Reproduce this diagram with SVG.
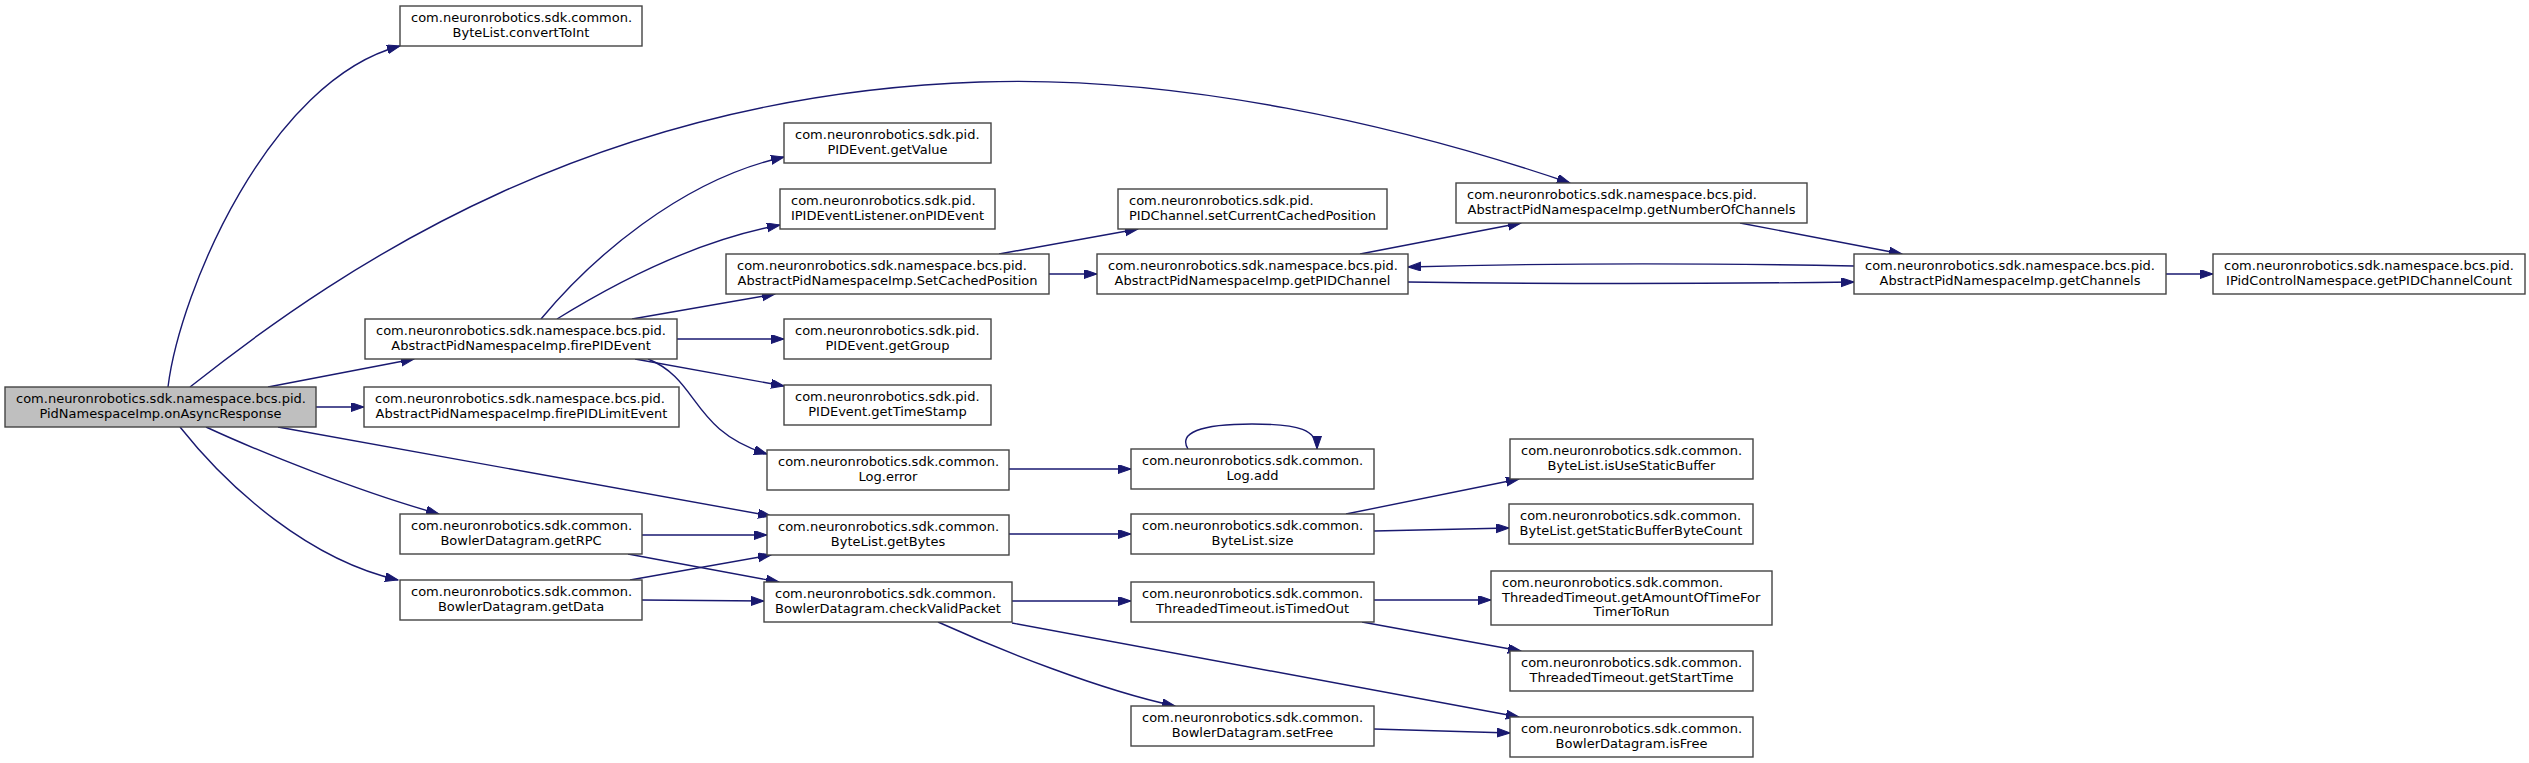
<svg xmlns="http://www.w3.org/2000/svg" width="2529" height="763" viewBox="0 0 2529 763">
<style>
.n rect{fill:#ffffff;stroke:#444444;stroke-width:1.4}
.n.main rect{fill:#bfbfbf}
.n text{font-family:"DejaVu Sans","Liberation Sans",sans-serif;font-size:13px;fill:#000000}
.s{text-anchor:start}
.m{text-anchor:middle}
#edges path{fill:none;stroke:#191970;stroke-width:1.4;marker-end:url(#arr)}
</style>
<defs>
<marker id="arr" markerUnits="userSpaceOnUse" markerWidth="14" markerHeight="10" refX="13" refY="4.5" orient="auto">
<path d="M0,0 L13,4.5 L0,9 z" fill="#191970" stroke="#191970" stroke-width="1"/>
</marker>
</defs>
<rect x="0" y="0" width="2529" height="763" fill="#ffffff"/>
<g id="edges">
<path d="M168,387 C180,290 270,80 400,46"/>
<path d="M190,387 C350,260 600,95 980,82 C1180,75 1400,125 1570,183"/>
<path d="M268,387 L414,359"/>
<path d="M316,407 L364,407"/>
<path d="M278,427 L771,516"/>
<path d="M206,427 C260,452 360,492 439,514"/>
<path d="M180,427 C230,490 310,560 398,580"/>
<path d="M541,319 C590,260 680,180 784,157"/>
<path d="M557,319 C620,280 700,240 780,225"/>
<path d="M632,319 L775,294"/>
<path d="M677,339 L784,339"/>
<path d="M635,359 L784,386"/>
<path d="M648,359 C700,380 690,430 767,454"/>
<path d="M999,254 L1138,229"/>
<path d="M1049,274 L1097,274"/>
<path d="M1360,254 L1521,223"/>
<path d="M1408,282 C1550,284 1700,284 1854,282"/>
<path d="M1854,266 C1700,263 1550,263 1408,267"/>
<path d="M1740,223 L1902,254"/>
<path d="M2166,274 L2213,274"/>
<path d="M1009,469 L1131,469"/>
<path d="M1188,449 C1178,433 1200,424 1252,424 C1300,424 1317,430 1317,449"/>
<path d="M1009,534 L1131,534"/>
<path d="M1346,514 L1519,479"/>
<path d="M1374,531 L1509,528"/>
<path d="M642,535 L767,535"/>
<path d="M628,554 L779,582"/>
<path d="M630,580 L771,555"/>
<path d="M642,600 L764,601"/>
<path d="M1012,601 L1131,601"/>
<path d="M938,622 C1000,650 1100,690 1175,706"/>
<path d="M1012,623 L1519,717"/>
<path d="M1374,600 L1491,600"/>
<path d="M1362,622 L1521,651"/>
<path d="M1374,729 L1510,733"/>
</g>
<g id="n_main" class="n main"><rect x="5" y="387" width="311" height="40"/><text class="s" x="16" y="403">com.neuronrobotics.sdk.namespace.bcs.pid.</text><text class="m" x="160.5" y="418">PidNamespaceImp.onAsyncResponse</text></g>
<g id="n_convertToInt" class="n"><rect x="400" y="6" width="242" height="40"/><text class="s" x="411" y="22">com.neuronrobotics.sdk.common.</text><text class="m" x="521" y="37">ByteList.convertToInt</text></g>
<g id="n_firePIDEvent" class="n"><rect x="365" y="319" width="312" height="40"/><text class="s" x="376" y="335">com.neuronrobotics.sdk.namespace.bcs.pid.</text><text class="m" x="521" y="350">AbstractPidNamespaceImp.firePIDEvent</text></g>
<g id="n_firePIDLimitEvent" class="n"><rect x="364" y="387" width="315" height="40"/><text class="s" x="375" y="403">com.neuronrobotics.sdk.namespace.bcs.pid.</text><text class="m" x="521.5" y="418">AbstractPidNamespaceImp.firePIDLimitEvent</text></g>
<g id="n_getRPC" class="n"><rect x="400" y="514" width="242" height="40"/><text class="s" x="411" y="530">com.neuronrobotics.sdk.common.</text><text class="m" x="521" y="545">BowlerDatagram.getRPC</text></g>
<g id="n_getData" class="n"><rect x="400" y="580" width="242" height="40"/><text class="s" x="411" y="596">com.neuronrobotics.sdk.common.</text><text class="m" x="521" y="611">BowlerDatagram.getData</text></g>
<g id="n_getValue" class="n"><rect x="784" y="123" width="207" height="40"/><text class="s" x="795" y="139">com.neuronrobotics.sdk.pid.</text><text class="m" x="887.5" y="154">PIDEvent.getValue</text></g>
<g id="n_onPIDEvent" class="n"><rect x="780" y="189" width="215" height="40"/><text class="s" x="791" y="205">com.neuronrobotics.sdk.pid.</text><text class="m" x="887.5" y="220">IPIDEventListener.onPIDEvent</text></g>
<g id="n_SetCachedPosition" class="n"><rect x="726" y="254" width="323" height="40"/><text class="s" x="737" y="270">com.neuronrobotics.sdk.namespace.bcs.pid.</text><text class="m" x="887.5" y="285">AbstractPidNamespaceImp.SetCachedPosition</text></g>
<g id="n_getGroup" class="n"><rect x="784" y="319" width="207" height="40"/><text class="s" x="795" y="335">com.neuronrobotics.sdk.pid.</text><text class="m" x="887.5" y="350">PIDEvent.getGroup</text></g>
<g id="n_getTimeStamp" class="n"><rect x="784" y="385" width="207" height="40"/><text class="s" x="795" y="401">com.neuronrobotics.sdk.pid.</text><text class="m" x="887.5" y="416">PIDEvent.getTimeStamp</text></g>
<g id="n_LogError" class="n"><rect x="767" y="450" width="242" height="40"/><text class="s" x="778" y="466">com.neuronrobotics.sdk.common.</text><text class="m" x="888" y="481">Log.error</text></g>
<g id="n_getBytes" class="n"><rect x="767" y="515" width="242" height="40"/><text class="s" x="778" y="531">com.neuronrobotics.sdk.common.</text><text class="m" x="888" y="546">ByteList.getBytes</text></g>
<g id="n_checkValidPacket" class="n"><rect x="764" y="582" width="248" height="40"/><text class="s" x="775" y="598">com.neuronrobotics.sdk.common.</text><text class="m" x="888" y="613">BowlerDatagram.checkValidPacket</text></g>
<g id="n_setCurrentCachedPosition" class="n"><rect x="1118" y="189" width="269" height="40"/><text class="s" x="1129" y="205">com.neuronrobotics.sdk.pid.</text><text class="m" x="1252.5" y="220">PIDChannel.setCurrentCachedPosition</text></g>
<g id="n_getPIDChannel" class="n"><rect x="1097" y="254" width="311" height="40"/><text class="s" x="1108" y="270">com.neuronrobotics.sdk.namespace.bcs.pid.</text><text class="m" x="1252.5" y="285">AbstractPidNamespaceImp.getPIDChannel</text></g>
<g id="n_getNumberOfChannels" class="n"><rect x="1456" y="183" width="351" height="40"/><text class="s" x="1467" y="199">com.neuronrobotics.sdk.namespace.bcs.pid.</text><text class="m" x="1631.5" y="214">AbstractPidNamespaceImp.getNumberOfChannels</text></g>
<g id="n_getChannels" class="n"><rect x="1854" y="254" width="312" height="40"/><text class="s" x="1865" y="270">com.neuronrobotics.sdk.namespace.bcs.pid.</text><text class="m" x="2010" y="285">AbstractPidNamespaceImp.getChannels</text></g>
<g id="n_getPIDChannelCount" class="n"><rect x="2213" y="254" width="312" height="40"/><text class="s" x="2224" y="270">com.neuronrobotics.sdk.namespace.bcs.pid.</text><text class="m" x="2369" y="285">IPidControlNamespace.getPIDChannelCount</text></g>
<g id="n_LogAdd" class="n"><rect x="1131" y="449" width="243" height="40"/><text class="s" x="1142" y="465">com.neuronrobotics.sdk.common.</text><text class="m" x="1252.5" y="480">Log.add</text></g>
<g id="n_size" class="n"><rect x="1131" y="514" width="243" height="40"/><text class="s" x="1142" y="530">com.neuronrobotics.sdk.common.</text><text class="m" x="1252.5" y="545">ByteList.size</text></g>
<g id="n_isTimedOut" class="n"><rect x="1131" y="582" width="243" height="40"/><text class="s" x="1142" y="598">com.neuronrobotics.sdk.common.</text><text class="m" x="1252.5" y="613">ThreadedTimeout.isTimedOut</text></g>
<g id="n_setFree" class="n"><rect x="1131" y="706" width="243" height="40"/><text class="s" x="1142" y="722">com.neuronrobotics.sdk.common.</text><text class="m" x="1252.5" y="737">BowlerDatagram.setFree</text></g>
<g id="n_isUseStaticBuffer" class="n"><rect x="1510" y="439" width="243" height="40"/><text class="s" x="1521" y="455">com.neuronrobotics.sdk.common.</text><text class="m" x="1631.5" y="470">ByteList.isUseStaticBuffer</text></g>
<g id="n_getStaticBufferByteCount" class="n"><rect x="1509" y="504" width="244" height="40"/><text class="s" x="1520" y="520">com.neuronrobotics.sdk.common.</text><text class="m" x="1631" y="535">ByteList.getStaticBufferByteCount</text></g>
<g id="n_getAmountOfTime" class="n"><rect x="1491" y="571" width="281" height="54"/><text class="s" x="1502" y="587">com.neuronrobotics.sdk.common.</text><text class="s" x="1502" y="601.7">ThreadedTimeout.getAmountOfTimeFor</text><text class="m" x="1631.5" y="616.3">TimerToRun</text></g>
<g id="n_getStartTime" class="n"><rect x="1510" y="651" width="243" height="40"/><text class="s" x="1521" y="667">com.neuronrobotics.sdk.common.</text><text class="m" x="1631.5" y="682">ThreadedTimeout.getStartTime</text></g>
<g id="n_isFree" class="n"><rect x="1510" y="717" width="243" height="40"/><text class="s" x="1521" y="733">com.neuronrobotics.sdk.common.</text><text class="m" x="1631.5" y="748">BowlerDatagram.isFree</text></g>
</svg>
